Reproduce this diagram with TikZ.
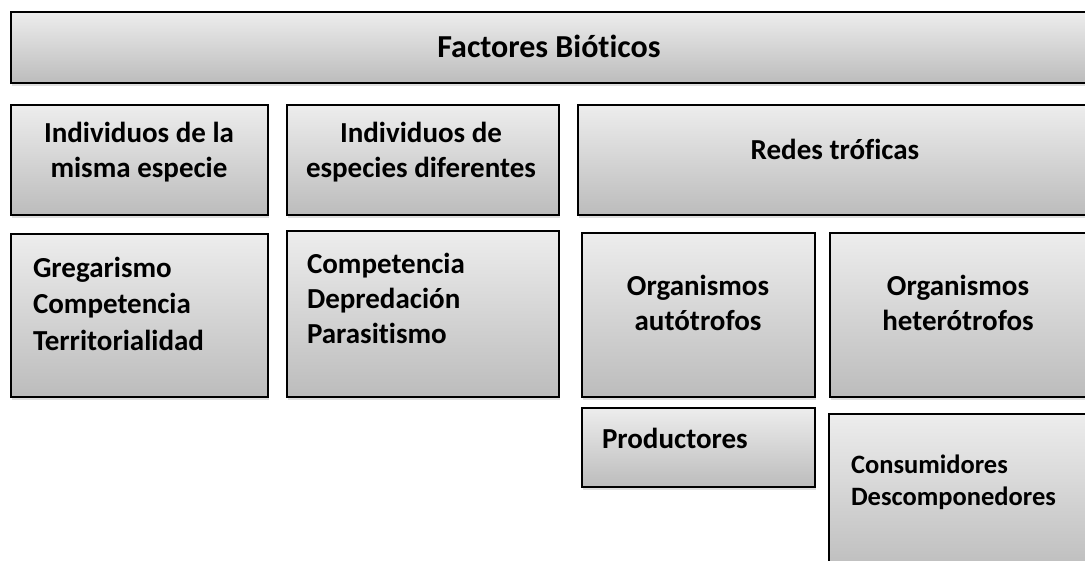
\documentclass[tikz,border=0pt]{standalone}
\usepackage{fontspec}
\setmainfont{Carlito}[Ligatures=NoCommon]
\usetikzlibrary{shadows}
\definecolor{gtop}{HTML}{EDEDED}
\definecolor{gbot}{HTML}{BCBCBC}
\tikzset{
  box/.style={draw=black, line width=1.4pt, top color=gtop, bottom color=gbot,
    drop shadow={shadow xshift=1pt, shadow yshift=-3pt, opacity=0.25},
    inner sep=0pt, outer sep=0pt, anchor=north west},
  lbl/.style={font=\fontsize{29}{35}\selectfont\bfseries, inner sep=0pt, outer sep=0pt},
  lblwide/.style={font=\fontsize{29}{36.5}\selectfont\bfseries, inner sep=0pt, outer sep=0pt},
  lblbig/.style={font=\fontsize{32}{38}\selectfont\bfseries, inner sep=0pt, outer sep=0pt},
  lblsm/.style={font=\fontsize{26.5}{32}\selectfont\bfseries, inner sep=0pt, outer sep=0pt},
}
\newcommand\boxat[5]{\node[box, minimum width=#4pt-#2pt, minimum height=#5pt-#3pt] (#1) at (#2,#3) {};}
\begin{document}
\begin{tikzpicture}[x=1pt,y=-1pt]
\useasboundingbox (0,0) rectangle (1085,561);
\clip (0,0) rectangle (1085,561);
\boxat{top}{11}{12}{1092}{83}
\boxat{ra}{11}{105}{268}{215}
\boxat{rb}{287}{105}{559}{215}
\boxat{rc}{578}{105}{1092}{215}
\boxat{sa}{11}{234}{268}{397}
\boxat{sb}{287}{231}{559}{397}
\boxat{sc}{582}{233}{815}{397}
\boxat{sd}{830}{233}{1092}{397}
\boxat{pr}{582}{408}{815}{487}
\boxat{co}{829}{414}{1092}{575}

\node[lblbig, anchor=base] (ttop) at (549,58) {Factores Bióticos};
\node[lbl, anchor=north, align=center] (tra) at (139,122) {Individuos de la\\misma especie};
\node[lbl, anchor=north, align=center] (trb) at (421,122) {Individuos de\\especies diferentes};
\node[lbl, anchor=base] (trc) at (835,160) {Redes tróficas};
\node[lblwide, anchor=north west, align=left] (tsa) at (33,257) {Gregarismo\\Competencia\\Territorialidad};
\node[lbl, anchor=north west, align=left] (tsb) at (307,253) {Competencia\\Depredación\\Parasitismo};
\node[lbl, anchor=north, align=center] (tsc) at (698,275) {Organismos\\autótrofos};
\node[lbl, anchor=north, align=center] (tsd) at (958,275) {Organismos\\heterótrofos};
\node[lbl, anchor=base west] (tpr) at (602,448) {Productores};
\node[lblsm, anchor=north west, align=left] (tco) at (851,455) {Consumidores\\Descomponedores};
\end{tikzpicture}
\end{document}
